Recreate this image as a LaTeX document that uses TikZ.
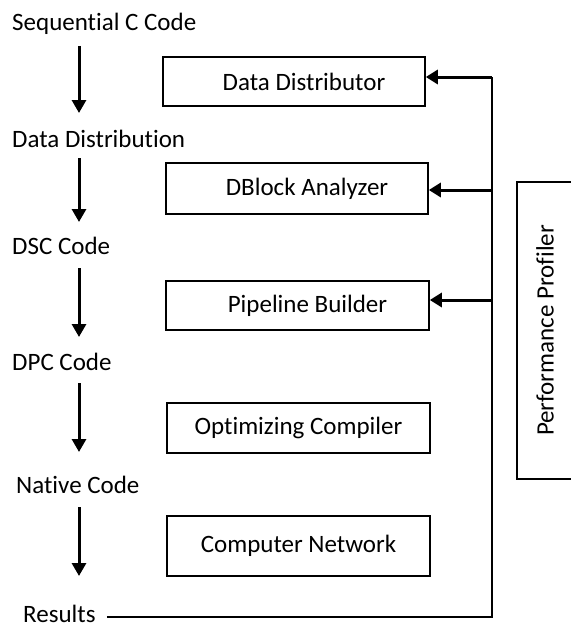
\documentclass[tikz,border=0pt]{standalone}
\usepackage{fontspec}
\setmainfont{Carlito}[Ligatures=CommonOff]
\usetikzlibrary{arrows.meta}

\begin{document}
\begin{tikzpicture}[x=1pt, y=-1pt,
			every node/.style={font=\fontsize{25}{30}\selectfont, inner sep=0pt},
			lbl/.style={anchor=base west},
			box/.style={draw, line width=1.6pt, minimum width=263pt, minimum height=50pt},
			arr/.style={-{Triangle[width=14pt,length=13pt]}, line width=3pt},
			fb/.style={-{Triangle[width=14pt,length=12pt]}, line width=3pt},
			bus/.style={line width=1.8pt}
		]
		\useasboundingbox (0,0) rectangle (570,626);

		\node[lbl] (seq) at (12,31) {Sequential C Code};
		\node[lbl] (ddist) at (12,147) {Data Distribution};
		\node[lbl] (dsc) at (12,254) {DSC Code};
		\node[lbl] (dpc) at (12,370) {DPC Code};
		\node[lbl] (native) at (16,493) {Native Code};
		\node[lbl] (results) at (23,622) {Results};

		\node[box, minimum width=262pt, minimum height=49pt] (distributor) at (294,81.5) {\hspace*{20pt}Data Distributor};
		\node[box, minimum width=262pt, minimum height=51pt] (analyzer) at (297,188.5) {\hspace*{20pt}DBlock Analyzer};
		\node[box, minimum height=49pt] (builder) at (297.5,305.5) {\hspace*{20pt}Pipeline Builder};
		\node[box] (compiler) at (298.5,428) {Optimizing Compiler};
		\node[box, minimum height=60pt] (network) at (298.5,546) {Computer Network};

		\node[draw, line width=1.6pt, rotate=90, minimum width=297pt, minimum height=56pt] (profiler) at (545,330.5) {Performance Profiler};

		\coordinate (ax) at (79,0);
		\draw[arr, shorten <=15pt, shorten >=34pt] (seq.base -| ax) -- (ddist.base -| ax);
		\draw[arr, shorten <=11pt, shorten >=32pt] (ddist.base -| ax) -- (dsc.base -| ax);
		\draw[arr, shorten <=14pt, shorten >=33pt] (dsc.base -| ax) -- (dpc.base -| ax);
		\draw[arr, shorten <=13pt, shorten >=41pt] (dpc.base -| ax) -- (native.base -| ax);
		\draw[arr, shorten <=14pt, shorten >=46pt] (native.base -| ax) -- (results.base -| ax);

		% feedback from the results
		\coordinate (tap1) at (492,77);
		\coordinate (tap2) at (492,190);
		\coordinate (tap3) at (492,300);
		\draw[bus, shorten <=11pt] ([yshift=5pt]results.base east) -| (tap1);
		\draw[fb] (tap1) -- (tap1 -| distributor.east);
		\draw[fb] (tap2) -- (tap2 -| analyzer.east);
		\draw[fb] (tap3) -- (tap3 -| builder.east);
	\end{tikzpicture}
\end{document}
